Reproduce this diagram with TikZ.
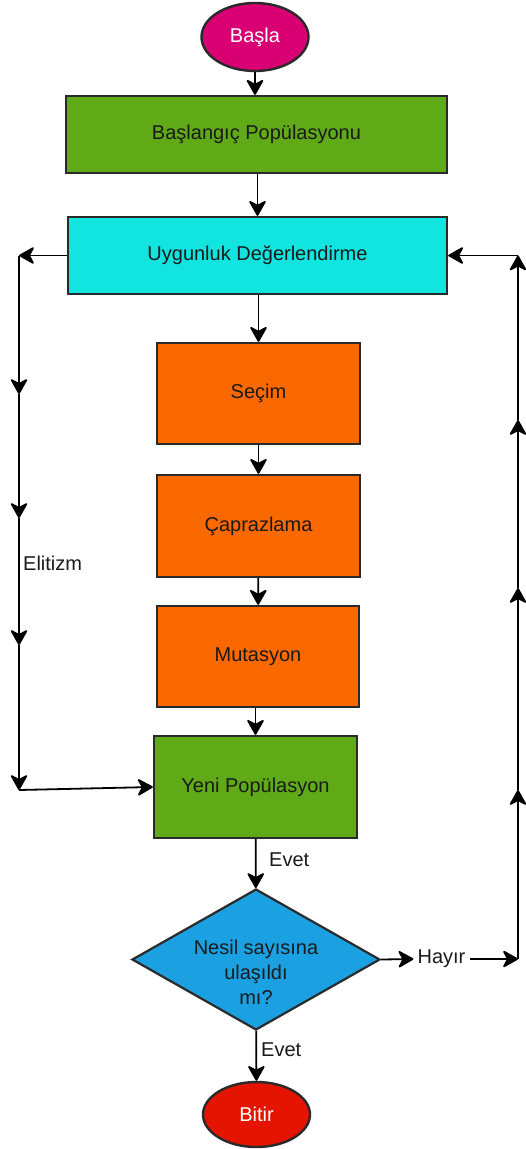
\documentclass[tikz,border=0pt]{standalone}
\usepackage{fontspec}
\setmainfont{Liberation Sans}
\usetikzlibrary{shapes.geometric,arrows.meta}
\definecolor{cmag}{HTML}{D80073}
\definecolor{cgreen}{HTML}{60A917}
\definecolor{ccyan}{HTML}{12E5E0}
\definecolor{corange}{HTML}{FA6800}
\definecolor{cblue}{HTML}{1BA1E2}
\definecolor{cred}{HTML}{E51400}
\definecolor{cline}{HTML}{2A2A2A}
\definecolor{ctext}{HTML}{1A1A1A}
\begin{document}
\begin{tikzpicture}[x=1pt,y=-1pt,
 every node/.style={font=\fontsize{20}{25}\selectfont},
 box/.style={rectangle, draw=cline, line width=2.4pt, inner sep=0pt, text=ctext},
 term/.style={ellipse, draw=cline, line width=2.4pt, inner sep=0pt, text=white},
 dia/.style={diamond, draw=cline, line width=2.2pt, inner sep=0pt, fill=cblue},
 conn/.style={line width=1.8pt, -{Stealth[length=17pt,width=19pt,inset=5pt,round]}},
 lbl/.style={inner sep=0pt, text=ctext}]
\useasboundingbox (0,0) rectangle (525,1149);

% nodes
\node[term, fill=cmag, minimum width=107pt, minimum height=68pt] (start) at (255,37) {Başla};
\node[box, fill=cgreen, minimum width=381pt, minimum height=77pt] (init) at (256.5,134.5) {Başlangıç Popülasyonu};
\node[box, fill=ccyan, minimum width=379pt, minimum height=77pt] (fit) at (257.5,255.5) {Uygunluk Değerlendirme};
\node[box, fill=corange, minimum width=203pt, minimum height=101pt] (sel) at (258.5,393.5) {Seçim};
\node[box, fill=corange, minimum width=203pt, minimum height=102pt] (cross) at (258.5,526) {Çaprazlama};
\node[box, fill=corange, minimum width=202pt, minimum height=101pt] (mut) at (258,656.5) {Mutasyon};
\node[box, fill=cgreen, minimum width=203pt, minimum height=102pt] (newpop) at (255.5,787) {Yeni Popülasyon};
\node[dia, minimum width=248pt, minimum height=141pt,
  label={[lbl, align=center, yshift=-13pt]center:Nesil sayısına\\ulaşıldı\\mı?}] (dec) at (256,959.5) {};
\node[term, fill=cred, minimum width=107pt, minimum height=65pt] (stop) at (256.5,1114.5) {Bitir};

% labels
\node[lbl, anchor=west] (evet1) at (269,860) {Evet};
\node[lbl, anchor=west] (evet2) at (261,1050) {Evet};
\node[lbl, anchor=west] (elit) at (23,563) {Elitizm};
\node[lbl, inner xsep=4pt] (hayir) at (441.5,959) {Hayır};

% main flow
\draw[conn] (start.south) -- (start.south |- init.north);
\draw[conn] (init.south -| fit.north) -- (fit.north);
\draw[conn] (fit.south -| sel.north) -- (sel.north);
\draw[conn] (sel) -- (cross);
\draw[conn] (cross) -- (mut);
\draw[conn] (mut.south -| newpop.north) -- (newpop.north);
\draw[conn] (newpop) -- (dec);
\draw[conn] (dec) -- (stop);

% elitism path (left)
\coordinate (l0) at (19,255.5);
\coordinate (l1) at (19,394);
\coordinate (l2) at (19,518);
\coordinate (l3) at (19,645);
\coordinate (l4) at (19,790);
\draw[conn] (fit.west) -- (l0);
\draw[conn] (l0) -- (l1);
\draw[conn] (l1) -- (l2);
\draw[conn] (l2) -- (l3);
\draw[conn] (l3) -- (l4);
\draw[conn] (l4) -- (newpop.west);

% loop back path (right)
\coordinate (r0) at (518,959);
\coordinate (r1) at (518,790);
\coordinate (r2) at (518,588);
\coordinate (r3) at (518,420);
\coordinate (r4) at (518,255.5);
\draw[conn] (dec.east) -- (hayir.west);
\draw[conn] (hayir.east) -- (r0);
\draw[conn] (r0) -- (r1);
\draw[conn] (r1) -- (r2);
\draw[conn] (r2) -- (r3);
\draw[conn] (r3) -- (r4);
\draw[conn] (r4) -- (fit.east);
\end{tikzpicture}
\end{document}
